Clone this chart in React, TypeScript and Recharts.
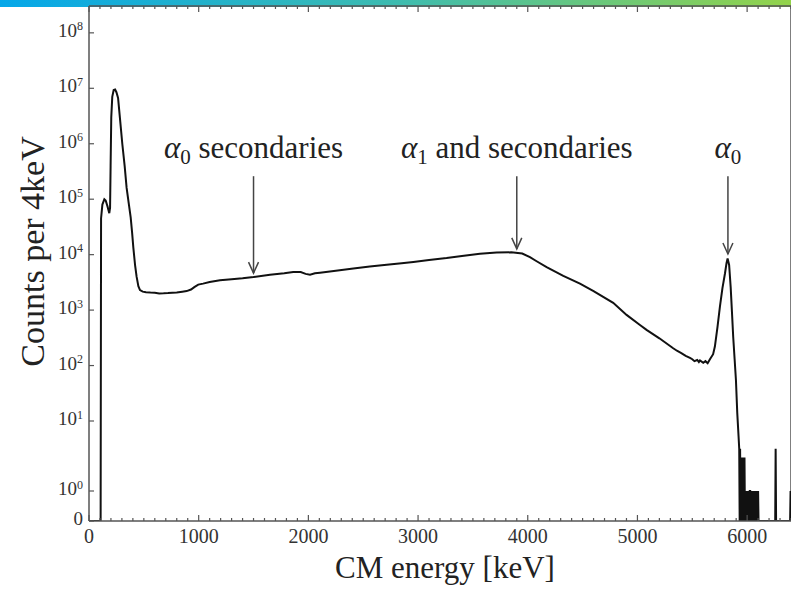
import { LineChart, Line, XAxis, YAxis, ReferenceLine, ReferenceDot } from 'recharts';

const FONT = "'Liberation Serif', 'Times New Roman', serif";
const AXIS_COLOR = '#555';

// Spectrum: CM energy (keV) and counts per 4 keV bin
const ENERGY_KEV = [
  0, 106, 110, 122, 140, 152, 168, 185, 192, 197, 203, 212, 225, 238, 250, 265, 285, 304, 325, 343,
  362, 380, 393, 404, 420, 434, 450, 465, 490, 520, 560, 600, 640, 680, 720, 760, 800, 850, 890, 930,
  960, 996, 1040, 1100, 1194, 1300, 1400, 1500, 1650, 1780, 1862, 1930, 1975, 2015, 2060, 2106, 2250,
  2410, 2560, 2714, 2850, 2957, 3100, 3260, 3400, 3564, 3716, 3850, 3950, 4020, 4081, 4172, 4324, 4476,
  4600, 4779, 4901, 5023, 5083, 5200, 5326, 5360, 5400, 5440, 5479, 5500, 5520, 5545, 5560, 5570, 5600,
  5620, 5640, 5661, 5690, 5706, 5730, 5752, 5775, 5798, 5812, 5822, 5836, 5850, 5862, 5873, 5886, 5898,
  5910, 5922, 5928,
];
const COUNTS = [
  0, 0, 45000, 80000, 100000, 95000, 75000, 56000, 70000, 400000, 3000000, 7000000, 9300000, 9500000,
  8500000, 6700000, 2500000, 980000, 400000, 160000, 85000, 47000, 25000, 13500, 6500, 4000, 2700, 2300,
  2150, 2100, 2070, 2060, 2000, 2010, 2030, 2060, 2080, 2150, 2200, 2350, 2600, 2880, 3000, 3200, 3450,
  3600, 3750, 3950, 4350, 4600, 4850, 4850, 4500, 4350, 4600, 4700, 5100, 5600, 6100, 6600, 7000, 7400,
  8000, 8700, 9500, 10400, 10900, 11000, 10500, 9000, 7600, 5950, 4150, 3000, 2200, 1350, 820, 540, 440,
  310, 205, 185, 168, 150, 137, 130, 120, 126, 116, 124, 112, 120, 110, 130, 160, 220, 500, 1150, 2500,
  4570, 7000, 8500, 6500, 2600, 900, 330, 130, 55, 14, 6, 4,
];

// Sparse tail above the alpha0 peak, one value per 4 keV bin from TAIL_START_KEV
const TAIL_START_KEV = 5932;
const TAIL_COUNTS = [
  0, 4, 0, 3, 0, 3, 1, 0, 3, 0, 2, 3, 0, 1, 0, 1, 0, 0, 0, 1, 0, 1, 0, 1, 1, 0, 1, 0, 0, 0, 1, 0, 1, 0,
  1, 0, 1, 0, 1, 0, 1, 0, 1, 0,
];

// Isolated counts further up
const STRAY_KEV = [6256, 6260, 6264, 6392, 6396, 6400];
const STRAY_COUNTS = [0, 4, 0, 0, 1, 0];

const X_MAX = 6400;
const Y_TICK_COUNTS = [0, 1, 10, 1e2, 1e3, 1e4, 1e5, 1e6, 1e7, 1e8];
const Y_TICK_EXP = [null, 0, 1, 2, 3, 4, 5, 6, 7, 8];

const ANNOTATIONS = [
  { e: 1500, tip: 4650, top: 2.6e5, label: 5.6e5, sub: '0', text: ' secondaries' },
  { e: 3900, tip: 12700, top: 2.6e5, label: 5.6e5, sub: '1', text: ' and secondaries' },
  { e: 5825, tip: 10300, top: 2.6e5, label: 5.6e5, sub: '0', text: '' },
];

// the figure's vertical axis: 0, then a stretched 1..10 decade, then plain decades
function toY(c: number) {
  if (c <= 0) return 0;
  if (c < 1) return 30 * c;
  if (c <= 10) return 30 + 70 * Math.log10(c);
  return 100 + 55.45 * (Math.log10(c) - 1);
}

const Y_TICKS = Y_TICK_COUNTS.map(toY);
const X_TICKS: number[] = [];
for (let v = 0; v <= X_MAX; v += 100) X_TICKS.push(v);

const data = [
  ...ENERGY_KEV.map((e, i) => ({ e, y: toY(COUNTS[i]) })),
  ...TAIL_COUNTS.map((c, i) => ({ e: TAIL_START_KEV + 4 * i, y: toY(c) })),
  ...STRAY_KEV.map((e, i) => ({ e, y: toY(STRAY_COUNTS[i]) })),
];

const textStyle = { fontFamily: FONT };

function BottomTick({ x, y, payload }: any) {
  const v = payload.value;
  const major = v % 1000 === 0;
  return (
    <g>
      <line x1={x} y1={y} x2={x} y2={y - (major ? 6 : 3)} stroke={AXIS_COLOR} strokeWidth={1.2} />
      {major && (
        <text x={x} y={y + 22} textAnchor="middle" style={textStyle} fontSize={20} fill="#333">
          {v}
        </text>
      )}
    </g>
  );
}

function TopTick({ x, y, payload }: any) {
  const major = payload.value % 1000 === 0;
  return <line x1={x} y1={y} x2={x} y2={y + (major ? 6 : 3)} stroke={AXIS_COLOR} strokeWidth={1.2} />;
}

function LeftTick({ x, y, payload }: any) {
  const idx = Y_TICKS.findIndex((t) => Math.abs(t - payload.value) < 1e-6);
  const exp = Y_TICK_EXP[idx];
  return (
    <g>
      <line x1={x} y1={y} x2={x + 5} y2={y} stroke={AXIS_COLOR} strokeWidth={1.2} />
      <text x={x - 6} y={y + 4} textAnchor="end" style={textStyle} fontSize={19} fill="#333">
        {exp === null ? (
          '0'
        ) : (
          <>
            <tspan>10</tspan>
            <tspan dy={-6.5} fontSize={12}>
              {exp}
            </tspan>
          </>
        )}
      </text>
    </g>
  );
}

function AnnotationLabel({ cx, cy, sub, text }: any) {
  return (
    <text x={cx} y={cy} textAnchor="middle" style={{ fontFamily: FONT, fontSize: 31 }} fill="#222">
      <tspan style={{ fontStyle: 'italic' }}>α</tspan>
      <tspan dy={6} style={{ fontSize: 21 }}>
        {sub}
      </tspan>
      <tspan dy={-6}>{text}</tspan>
    </text>
  );
}

export default function App() {
  return (
    <div style={{ position: 'fixed', left: 0, top: 0, width: 791, height: 590, overflow: 'hidden', background: '#fff' }}>
      <div
        style={{
          position: 'absolute',
          left: 0,
          top: 0,
          width: 791,
          height: 7,
          background: 'linear-gradient(to right, #05a7e9, #3dbcb0 50%, #93d34a)',
        }}
      />
      <div style={{ position: 'absolute', left: 0, top: 0 }}>
        <LineChart width={792} height={590} data={data} margin={{ top: 0, right: 1, bottom: 0, left: 0 }}>
          <XAxis
            dataKey="e"
            type="number"
            domain={[0, X_MAX]}
            ticks={X_TICKS}
            interval={0}
            tickSize={0}
            tickMargin={0}
            tickLine={false}
            tick={<BottomTick />}
            height={69}
            allowDataOverflow
            axisLine={{ stroke: AXIS_COLOR, strokeWidth: 1.5 }}
            label={{
              content: ({ viewBox }: any) => (
                <text
                  x={viewBox.x + viewBox.width / 2 + 5}
                  y={viewBox.y + 57}
                  textAnchor="middle"
                  style={{ fontFamily: FONT, fontSize: 31 }}
                  fill="#222"
                >
                  CM energy [keV]
                </text>
              ),
            }}
          />
          <XAxis
            xAxisId="top"
            orientation="top"
            dataKey="e"
            type="number"
            domain={[0, X_MAX]}
            ticks={X_TICKS}
            interval={0}
            tickSize={0}
            tickMargin={0}
            tickLine={false}
            tick={<TopTick />}
            height={6}
            allowDataOverflow
            axisLine={{ stroke: AXIS_COLOR, strokeWidth: 1.5 }}
          />
          <YAxis
            type="number"
            domain={[0, 515]}
            ticks={Y_TICKS}
            interval={0}
            tickSize={0}
            tickMargin={0}
            tickLine={false}
            tick={<LeftTick />}
            width={89}
            allowDataOverflow
            axisLine={{ stroke: AXIS_COLOR, strokeWidth: 1.5 }}
            label={{
              content: ({ viewBox }: any) => {
                const cx = 44;
                const cy = viewBox.y + viewBox.height / 2 - 12;
                return (
                  <text
                    x={cx}
                    y={cy}
                    transform={`rotate(-90 ${cx} ${cy})`}
                    textAnchor="middle"
                    style={{ fontFamily: FONT, fontSize: 34 }}
                    fill="#222"
                  >
                    Counts per 4keV
                  </text>
                );
              },
            }}
          />
          <ReferenceLine x={X_MAX} stroke={AXIS_COLOR} strokeWidth={1.5} ifOverflow="visible" />
          <Line
            dataKey="y"
            type="linear"
            stroke="#111"
            strokeWidth={2}
            dot={false}
            isAnimationActive={false}
          />
          {ANNOTATIONS.map((a, i) => (
            <ReferenceLine
              key={`shaft-${i}`}
              segment={[
                { x: a.e, y: toY(a.top) },
                { x: a.e, y: toY(a.tip) },
              ]}
              stroke="#444"
              strokeWidth={1.5}
            />
          ))}
          {ANNOTATIONS.map((a, i) => (
            <ReferenceDot
              key={`head-${i}`}
              x={a.e}
              y={toY(a.tip)}
              r={0}
              shape={({ cx, cy }: any) => (
                <path
                  d={`M${cx - 5},${cy - 11} L${cx},${cy} L${cx + 5},${cy - 11}`}
                  fill="none"
                  stroke="#444"
                  strokeWidth={1.5}
                />
              )}
            />
          ))}
          {ANNOTATIONS.map((a, i) => (
            <ReferenceDot
              key={`label-${i}`}
              x={a.e}
              y={toY(a.label)}
              r={0}
              shape={({ cx, cy }: any) => <AnnotationLabel cx={cx} cy={cy} sub={a.sub} text={a.text} />}
            />
          ))}
        </LineChart>
      </div>
    </div>
  );
}
